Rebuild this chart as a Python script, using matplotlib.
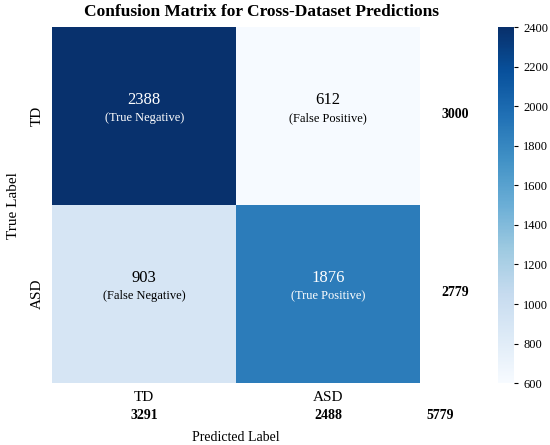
import numpy as np
import matplotlib
matplotlib.use('Agg')
import matplotlib.pyplot as plt

labels = ['TD', 'ASD']
counts = np.array([[2388, 612],
                   [903, 1876]])
cell_names = [['(True Negative)', '(False Positive)'],
              ['(False Negative)', '(True Positive)']]
row_totals = [3000, 2779]
col_totals = [3291, 2488]
grand_total = 5779

plt.rcParams['font.family'] = ['Liberation Serif', 'DejaVu Serif']

fig = plt.figure(figsize=(5.5, 4.45), dpi=100)
ax = fig.add_axes([0.095, 0.139, 0.669, 0.8])
cax = fig.add_axes([0.905, 0.139, 0.03, 0.8])

mesh = ax.pcolormesh(counts, cmap='Blues', vmin=600, vmax=2400)
ax.set_xlim(0, 2)
ax.set_ylim(2, 0)
for s in ax.spines.values():
    s.set_visible(False)

for i in range(2):
    for j in range(2):
        c = 'white' if counts[i, j] > 1500 else 'black'
        ax.text(j + 0.5, i + 0.41, str(counts[i, j]), ha='center', va='center',
                fontsize=12, color=c)
        ax.text(j + 0.5, i + 0.51, cell_names[i][j], ha='center', va='center',
                fontsize=9, color=c)

for i, t in enumerate(row_totals):
    ax.text(2.19, i + 0.49, str(t), ha='center', va='center', fontsize=10,
            fontweight='bold', clip_on=False)
for j, t in enumerate(col_totals):
    ax.text(j + 0.5, 2.18, str(t), ha='center', va='center', fontsize=10,
            fontweight='bold', clip_on=False)
ax.text(2.11, 2.18, str(grand_total), ha='center', va='center', fontsize=10,
        fontweight='bold', clip_on=False)

ax.set_xticks([0.5, 1.5])
ax.set_xticklabels(labels, fontsize=11)
ax.set_yticks([0.5, 1.5])
ax.set_yticklabels(labels, fontsize=11, rotation=90, va='center')
ax.tick_params(length=0, pad=6)
ax.set_xlabel('Predicted Label', fontsize=10, labelpad=19)
ax.set_ylabel('True Label', fontsize=11, labelpad=8)
# title sits a bit right of the heatmap centre in the original
fig.text(0.475, 0.973, 'Confusion Matrix for Cross-Dataset Predictions',
         ha='center', va='center', fontsize=12.5, fontweight='bold')

cb = fig.colorbar(mesh, cax=cax)
cb.set_ticks(np.arange(600, 2401, 200))
cb.ax.tick_params(labelsize=9, length=3)
cb.outline.set_visible(False)

fig.savefig('out.png', dpi=100)
